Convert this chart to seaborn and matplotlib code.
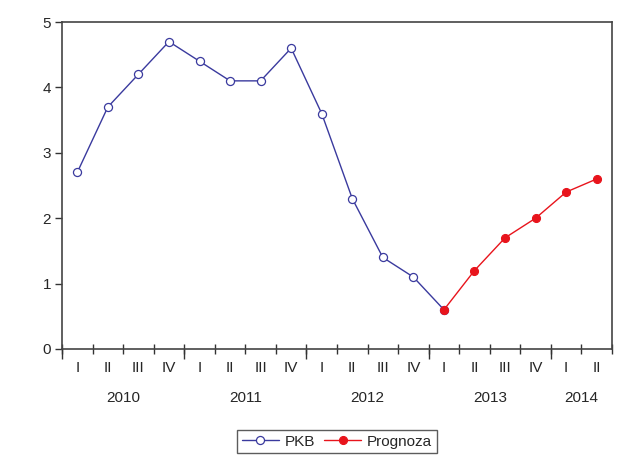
import matplotlib
matplotlib.use("Agg")
import matplotlib.pyplot as plt
import seaborn as sns
import pandas as pd
import numpy as np

quarters = ["I", "II", "III", "IV", "I", "II", "III", "IV", "I", "II", "III", "IV",
            "I", "II", "III", "IV", "I", "II"]
years = ["2010", "2011", "2012", "2013", "2014"]
year_quarters = [4, 4, 4, 4, 2]
pkb = [2.7, 3.7, 4.2, 4.7, 4.4, 4.1, 4.1, 4.6, 3.6, 2.3, 1.4, 1.1, 0.6]
prognoza = [0.6, 1.2, 1.7, 2.0, 2.4, 2.6]

sns.set_style("ticks")
plt.rcParams["font.family"] = ["Liberation Sans", "DejaVu Sans"]
plt.rcParams["font.size"] = 11

fig = plt.figure(figsize=(6.4, 4.74), dpi=100)
ax = fig.add_axes([62/640, 1-349/474, 550/640, 327/474])

n = len(quarters)
df_pkb = pd.DataFrame({"x": np.arange(len(pkb)), "y": pkb})
start = len(pkb) - 1
df_prog = pd.DataFrame({"x": np.arange(start, start + len(prognoza)), "y": prognoza})

blue = "#3a3a9e"
red = "#e8141c"
sns.lineplot(data=df_pkb, x="x", y="y", ax=ax, color=blue, linewidth=1.0,
             marker="o", markersize=5.8, markerfacecolor="white",
             markeredgecolor=blue, markeredgewidth=0.9, label="PKB")
sns.lineplot(data=df_prog, x="x", y="y", ax=ax, color=red, linewidth=1.0,
             marker="o", markersize=5.8, markerfacecolor=red,
             markeredgecolor=red, label="Prognoza")

ax.set_xlim(-0.5, n - 0.5)
ax.set_ylim(0, 5)
ax.set_xlabel("")
ax.set_ylabel("")
ax.set_yticks(range(0, 6))
ax.tick_params(axis="y", direction="out", length=5, width=1, color="#333333",
               labelsize=11, pad=3)

# quarter labels at centers, boundary ticks as minor
ax.set_xticks(np.arange(n))
ax.set_xticklabels(quarters)
ax.tick_params(axis="x", which="major", length=0, labelsize=11, pad=9)
ax.set_xticks(np.arange(-0.5, n, 1.0), minor=True)
ax.tick_params(axis="x", which="minor", direction="inout", length=7, width=1,
               color="#333333")

# year labels via secondary axis
sec = ax.secondary_xaxis("bottom")
bounds = np.concatenate([[0], np.cumsum(year_quarters)]) - 0.5
centers = (bounds[:-1] + bounds[1:]) / 2
sec.set_xticks(centers)
sec.set_xticklabels(years)
sec.tick_params(axis="x", which="major", length=0, labelsize=11, pad=30)
sec.set_xticks(bounds[:-1], minor=True)
sec.tick_params(axis="x", which="minor", direction="out", length=7, width=1,
                color="#333333")
sec.spines["bottom"].set_visible(False)

for s in ax.spines.values():
    s.set_color("#444444")
    s.set_linewidth(1.2)

leg = ax.legend(loc="upper center", bbox_to_anchor=(0.5, -0.225), ncol=2,
                frameon=True, fancybox=False, edgecolor="#333333",
                fontsize=11, handlelength=2.4, handletextpad=0.4,
                columnspacing=0.6, borderpad=0.3)
leg.get_frame().set_linewidth(1.0)

fig.savefig("out.png", dpi=100)
